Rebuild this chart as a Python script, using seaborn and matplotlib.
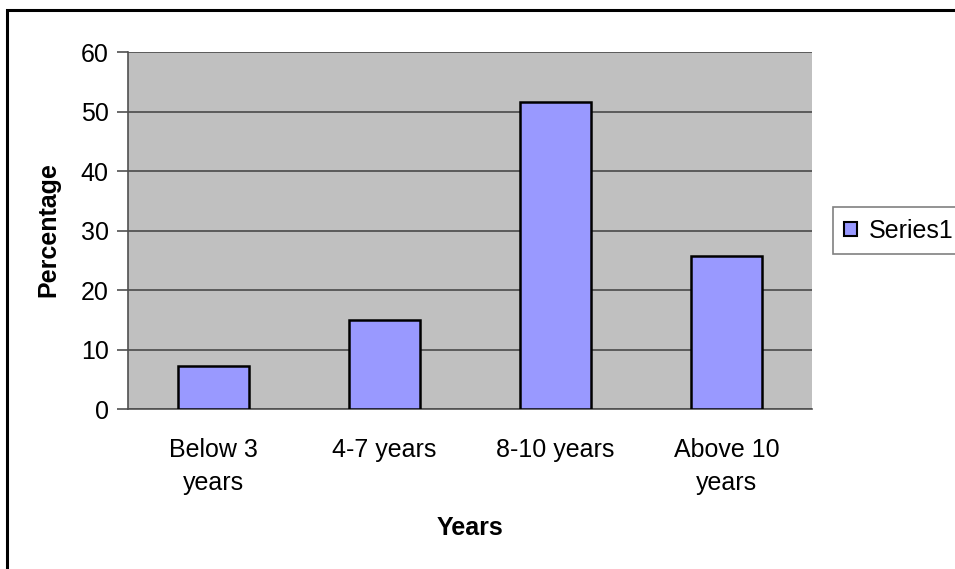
import matplotlib
matplotlib.use("Agg")
import matplotlib.pyplot as plt
import matplotlib.patches as mpatches
import seaborn as sns
import pandas as pd

# Share of respondents by years of experience
categories = ["Below 3\nyears", "4-7 years", "8-10 years", "Above 10\nyears"]
percentages = [7.3, 15.0, 51.6, 25.8]
series_name = "Series1"
y_ticks = [0, 10, 20, 30, 40, 50, 60]

df = pd.DataFrame({"Years": categories, "Percentage": percentages,
                   "series": [series_name] * len(categories)})

sns.set_style("white")
plt.rcParams["font.family"] = ["Liberation Sans", "DejaVu Sans"]
plt.rcParams["text.color"] = "black"
plt.rcParams["xtick.color"] = "black"
plt.rcParams["ytick.color"] = "black"
plt.rcParams["axes.labelcolor"] = "black"

W, H = 955, 569
FS = 18
fig = plt.figure(figsize=(W / 100, H / 100), dpi=100)
ax = fig.add_axes([128 / W, 1 - 409.3 / H, (812 - 128) / W, (409.3 - 52) / H])

sns.barplot(data=df, x="Years", y="Percentage", hue="series",
            palette={series_name: "#9999FF"}, saturation=1, width=0.41,
            edgecolor="black", linewidth=1.8, ax=ax, legend=False, zorder=3)

ax.set_facecolor("#C0C0C0")
ax.set_xlim(-0.5, len(categories) - 0.5)
ax.set_ylim(0, 60)
ax.set_yticks(y_ticks)
ax.yaxis.grid(True, color="#404040", linewidth=1.1, zorder=1)
ax.set_axisbelow(True)

for side in ["top", "right"]:
    ax.spines[side].set_visible(False)
for side in ["left", "bottom"]:
    ax.spines[side].set_color("#505050")
    ax.spines[side].set_linewidth(1.2)

# category labels sit between boundary ticks
ax.set_xticks(range(len(categories)))
ax.set_xticklabels(categories, linespacing=1.45)
ax.set_xticks([i - 0.5 for i in range(len(categories) + 1)], minor=True)
ax.tick_params(axis="x", which="major", length=0, pad=21, labelsize=FS,
               labelcolor="black")
ax.tick_params(axis="x", which="minor", length=8, width=1.2, color="#505050",
               direction="out")
ax.tick_params(axis="y", length=8, width=1.2, color="#505050", direction="out",
               pad=6, labelsize=FS, left=True, labelcolor="black")

ax.set_xlabel("")
ax.set_ylabel("")
fig.text(470 / W, 1 - 528 / H, "Years", ha="center", va="center",
         fontsize=FS, fontweight="bold", color="black")
fig.text(48 / W, 1 - 230 / H, "Percentage", ha="center", va="center",
         rotation=90, fontsize=FS, fontweight="bold", color="black")

handle = mpatches.Patch(facecolor="#9999FF", edgecolor="black", linewidth=1.5)
leg = ax.legend([handle], [series_name], loc="center left",
                bbox_to_anchor=(833 / W, 1 - 230.5 / H),
                bbox_transform=fig.transFigure, fontsize=FS,
                handlelength=0.5, handleheight=0.5, handletextpad=0.5,
                borderpad=0.45, borderaxespad=0, fancybox=False,
                frameon=True, framealpha=1)
leg.get_frame().set_edgecolor("#808080")
leg.get_frame().set_linewidth(1.2)
for t in leg.get_texts():
    t.set_color("black")

# outer chart frame
fig.patches.append(mpatches.Rectangle((7 / W, -0.05), 1.1, 1 - 10 / H + 0.05,
                                      transform=fig.transFigure, fill=False,
                                      edgecolor="black", linewidth=2.2))

fig.savefig("out.png", dpi=100)
